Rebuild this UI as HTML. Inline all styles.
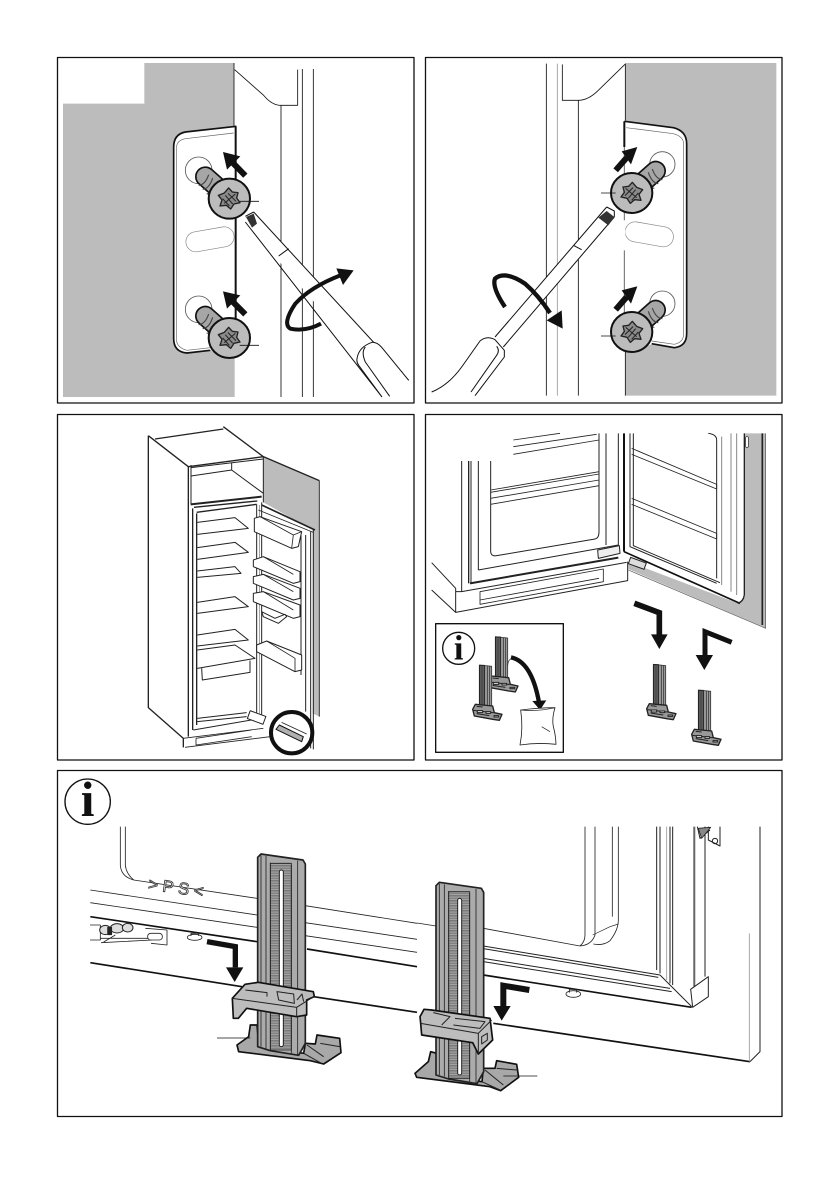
<!DOCTYPE html>
<html><head><meta charset="utf-8"><style>
html,body{margin:0;padding:0;background:#fff}
svg{display:block}
text{font-family:"Liberation Serif",serif}
</style></head><body>
<svg width="839" height="1191" viewBox="0 0 839 1191" xmlns="http://www.w3.org/2000/svg" fill="none" stroke-linejoin="round">
<defs>
<pattern id="h" width="6" height="5" patternUnits="userSpaceOnUse"><rect width="6" height="5" fill="#a6a6a6"/><rect width="6" height="1.7" fill="#5c5c5c"/></pattern>
<g id="sc">
<line x1="-20" y1="-20" x2="-72" y2="-66" stroke="#111" stroke-width="62" stroke-linecap="round"/>
<line x1="-20" y1="-20" x2="-72" y2="-66" stroke="#a6a6a6" stroke-width="52" stroke-linecap="round"/>
<g stroke="#444" stroke-width="3.5"><path d="M-92-40q20-2 30-32M-80-28q20-2 30-34M-68-14q20-2 30-34M-54 0q20-2 30-34"/></g>
<ellipse cx="0" cy="0" rx="62" ry="60" fill="#bcbcbc" stroke="#111" stroke-width="6"/>
<polygon points="-2,-32 9,-20 26,-18 22,-2 32,12 14,16 4,31 -9,20 -28,22 -22,4 -33,-10 -15,-17" fill="#8a8a8a" stroke="#222" stroke-width="4"/>
<path d="M-12-10 10 16M-4-16 20 8M-20 0 0 22M-15 14 18-14" stroke="#222" stroke-width="3"/>
</g>
<g id="mb">
<polygon points="0,0 37,4 37,125 0,125" fill="#a0a0a0" stroke="#333" stroke-width="2.5"/>
<rect x="1" y="1" width="14" height="123" fill="#666"/>
<path d="M8 3V122M16 3V122M24 4V122M31 4V122" stroke="#333" stroke-width="2.5"/>
<polygon points="-20,133 -12,118 40,123 45,143 68,148 60,166 40,163 -15,153" fill="#999" stroke="#222" stroke-width="4"/>
<path d="M-18 136 40 143 45 143M-8 124 10 126M-8 146 30 152" stroke="#222" stroke-width="3"/>
<path d="M-6 137h16v6h-16zM20 140h14v5h-14zM44 152h14v4h-14z" fill="#e2e2e2"/>
</g>
<g id="bb">
<polygon points="602,262 612,252 738,270 745,282 745,820 725,856 640,842 602,830" fill="#ababab" stroke="#222" stroke-width="5"/>
<rect x="640" y="280" width="63" height="560" fill="url(#h)"/>
<path d="M612 256V830M627 258V835M640 278V842M703 285V850M722 272V855" stroke="#222" stroke-width="2.5"/>
<rect x="667" y="300" width="12" height="530" rx="6" fill="#fff" stroke="#222" stroke-width="3"/>
</g>
</defs>

<!-- borders -->
<g stroke="#111" stroke-width="1.3">
<rect x="57.5" y="57.5" width="356.5" height="345.5"/>
<rect x="425.5" y="57.5" width="356.5" height="345.5"/>
<rect x="57.5" y="414.5" width="356.5" height="345.5"/>
<rect x="425.5" y="414.5" width="356.5" height="345.5"/>
<rect x="57.5" y="770.5" width="724.5" height="346"/>
</g>

<!-- PANEL 1 -->
<g transform="translate(57,57) scale(.33333)">
<polygon points="18,140 262,140 262,18 531,18 531,207 538,207 538,880 533,885 533,1020 18,1020" fill="#bcbcbc"/>
<path d="M672 145V1020M736 36V1020M769 36V1020M531 18V210M533 38 620 115Q645 145 672 145H722V38" stroke="#111" stroke-width="2.5"/>
<path d="M538 208 385 225Q350 232 350 270V845Q350 885 390 888L460 880 538 880V208Z" fill="#fff"/>
<path d="M538 208 385 225Q350 232 350 270V845Q350 885 390 888L460 880" stroke="#111" stroke-width="5"/>
<path d="M536 208V790" stroke="#111" stroke-width="6"/>
<path d="M530 228 385 245Q358 250 358 275V845Q358 872 390 880L460 872" stroke="#666" stroke-width="2"/>
<rect x="386" y="517" width="146" height="60" rx="30" transform="rotate(-10 459 547)" stroke="#888" stroke-width="2" fill="#fff"/>
<circle cx="425" cy="340" r="40" fill="#fff" stroke="#555" stroke-width="2.5"/>
<circle cx="425" cy="757" r="40" fill="#fff" stroke="#555" stroke-width="2.5"/>
<use href="#sc" transform="translate(517,425)"/>
<use href="#sc" transform="translate(517,843)"/>
<path d="M548 433H606M548 865H606" stroke="#111" stroke-width="2.5"/>
<polygon points="498,285 550,298 510,338" fill="#111"/><line x1="522" y1="312" x2="565" y2="356" stroke="#111" stroke-width="18"/>
<polygon points="498,703 550,715 510,755" fill="#111"/><line x1="522" y1="729" x2="565" y2="772" stroke="#111" stroke-width="18"/>
<!-- screwdriver -->
<polygon points="590,465 945,855 900,885 565,495 565,478" fill="#fff"/>
<path d="M590 465 1055 970M565 495 975 1020M565 478 590 465M665 597 695 575" stroke="#111" stroke-width="3"/>
<polygon points="567,480 590,470 600,500 585,512" fill="#333"/>
<path d="M900 905Q905 870 945 856Q960 858 975 872L1055 970V1020H975L905 925Q898 915 900 905Z" fill="#fff"/>
<path d="M1055 970 975 872Q960 855 945 856Q905 870 900 905Q898 915 905 925L975 1020M925 870Q912 885 925 915L998 1018" stroke="#111" stroke-width="3"/>
<path d="M792 800Q745 825 700 815Q675 800 715 740Q760 690 850 655" stroke="#111" stroke-width="12"/>
<polygon points="890,640 838,634 858,684" fill="#111"/>
</g>

<!-- PANEL 2 -->
<g transform="translate(425,57) scale(.33333)">
<polygon points="601,18 1054,18 1054,1016 601,1016" fill="#bcbcbc"/>
<path d="M364 20V1016M460 130V1016M601 20V190M601 880V1016M600 22 520 100Q490 130 460 130H412V22" stroke="#111" stroke-width="2.5"/>
<path d="M397 20V1016" stroke="#999" stroke-width="2.5"/>
<path d="M598 193 745 212Q785 222 785 260V830Q785 868 748 872L680 862 598 880Z" fill="#fff"/>
<path d="M598 193 745 212Q785 222 785 260V830Q785 868 748 872L680 860" stroke="#111" stroke-width="5"/>
<path d="M598 193V270" stroke="#111" stroke-width="6"/><path d="M598 270V880" stroke="#666" stroke-width="3"/>
<path d="M604 212 745 230Q776 238 776 262V830Q776 856 748 862L680 852" stroke="#666" stroke-width="2"/>
<rect x="600" y="502" width="146" height="60" rx="30" transform="rotate(10 673 532)" stroke="#888" stroke-width="2" fill="#fff"/>
<rect x="595" y="490" width="6" height="90" fill="#fff"/>
<circle cx="712" cy="322" r="38" fill="#fff" stroke="#555" stroke-width="2.5"/>
<circle cx="712" cy="740" r="38" fill="#fff" stroke="#555" stroke-width="2.5"/>
<use href="#sc" transform="translate(620,408) scale(-1,1)"/>
<use href="#sc" transform="translate(620,825) scale(-1,1)"/>
<path d="M528 408H572M528 837H572" stroke="#111" stroke-width="2.5"/>
<polygon points="637,270 590,283 618,322" fill="#111"/><line x1="605" y1="302" x2="572" y2="340" stroke="#111" stroke-width="18"/>
<polygon points="637,688 590,700 618,740" fill="#111"/><line x1="605" y1="720" x2="572" y2="758" stroke="#111" stroke-width="18"/>
<polygon points="545,450 568,480 235,870 210,840" fill="#fff"/>
<path d="M545 450 210 840M568 480 235 870M545 450 568 462 568 480M445 565 470 578" stroke="#111" stroke-width="3"/>
<polygon points="520,482 550,505 568,480 545,462" fill="#333"/>
<path d="M20 1005Q70 985 110 930L165 852Q185 835 210 848L238 880V900L150 1016H20Z" fill="#fff"/>
<path d="M20 1005Q70 985 110 930L165 852Q185 835 210 848L238 880V900L150 1016M215 868Q225 880 215 895L138 1005" stroke="#111" stroke-width="3"/>
<path d="M240 750Q200 690 210 665Q240 640 300 680Q340 715 375 768" stroke="#111" stroke-width="13"/>
<polygon points="413,815 365,790 410,760" fill="#111"/>
</g>

<!-- PANEL 3 -->
<g transform="translate(120,415) scale(.33333)" stroke="#222" stroke-width="3">
<polygon points="430,125 598,197 598,905 578,895 578,345 430,262" fill="#bcbcbc" stroke="none"/>
<path d="M598 197V905" stroke="#333"/>
<path d="M430 125 598 197M85 62V878L190 970V997M85 62 205 155V965" stroke-width="4"/>
<path d="M105 72 310 42M310 35 430 125M205 155 430 125" stroke-width="4"/>
<path d="M213 150V268M213 183 335 165 430 235M213 158 430 132M335 143V165M430 125V262"/>
<path d="M212 268 425 245" stroke-width="6"/>
<path d="M218 280V945M230 295V930M222 277 412 258M230 292 410 268" stroke-width="4"/>
<path d="M410 268V900M425 262V905" stroke-width="3"/>
<path d="M418 270V900" stroke-width="2" stroke="#777"/>
<path d="M232 322 345 308 385 340 232 358M232 398 345 382 385 412 232 433M232 468 345 455 363 475 232 487M232 562 345 545 385 575 232 595M232 660 345 643 385 675 232 693M232 705 345 690 405 730 232 760M245 760 247 795 390 772 390 737"/>
<path d="M232 910 380 893M232 920 380 905M220 945 412 912" />
<path d="M190 970 430 940M195 997 450 965M228 970 395 945M228 990 395 965M228 970V990" stroke-width="2.5"/>
<path d="M425 270 585 345" stroke-width="5"/>
<path d="M415 285 580 352" stroke-width="2.5"/>
<path d="M543 355V780M557 360V890M572 350V1000M580 345V1003" stroke-width="3"/>
<g fill="#fff">
<polygon points="403,310 420,305 545,350 535,395 515,400 403,350"/>
<polygon points="400,435 430,425 540,470 540,500 520,505 400,455"/>
<polygon points="400,485 430,478 540,520 540,550 520,555 400,505"/>
<polygon points="400,535 430,530 540,570 540,605 520,610 400,560"/>
<polygon points="425,590 430,605 475,625 500,605 495,598 465,610" />
<polygon points="410,690 440,678 545,720 545,765 525,770 410,710"/>
</g>
<path d="M420 305 520 360 545 350M515 400 520 360M430 425 520 478M430 478 520 530M430 530 520 585M440 678 525 730 525 770" stroke-width="2.5"/>
<rect x="385" y="895" width="50" height="25" fill="#fff" transform="rotate(20 410 907)"/>
<circle cx="515" cy="953" r="62" fill="#fff" stroke="#111" stroke-width="12"/>
<polygon points="468,943 478,930 550,965 545,980" fill="#b0b0b0" stroke="#111" stroke-width="3"/>
<path d="M485 922 560 957" stroke-width="2.5"/>
</g>

<!-- PANEL 4 -->
<g transform="translate(425,415) scale(.33333)" stroke="#222" stroke-width="3">
<polygon points="958,55 1022,55 1022,640 610,462 610,440 940,565 960,545" fill="#bcbcbc" stroke="none"/>
<path d="M110 138V530M138 138V505M160 138V465M197 138V408Q197 425 215 422L510 372Q522 370 522 350V55M543 55V390M580 55V400" />
<path d="M131 138V505" stroke-width="4"/>
<path d="M20 443 92 520V592L608 497V440M92 530 110 530 605 442M20 525 92 592"/>
<path d="M135 505 580 428" stroke-width="6"/>
<path d="M160 465 580 390"/>
<path d="M165 530 535 462V500L165 568ZM165 555 522 490" stroke-width="2.5"/>
<path d="M197 225 522 170M197 232 522 177M197 250 522 195M197 268 522 212M522 170V212M265 75 405 55M265 95 515 58M265 118 522 75M522 58V75" stroke-width="2.5"/>
<polygon points="518,405 583,392 585,415 520,430" fill="#eee" stroke-width="3"/>
<path d="M597 55V410" stroke="#111" stroke-width="6"/>
<path d="M597 410 945 565" stroke="#111" stroke-width="5"/>
<path d="M615 55V395L875 505M625 55V392L885 503M875 490V75Q875 58 850 55"/>
<path d="M890 65V510M918 55V530M935 55V540" stroke="#888"/>
<path d="M958 55V540Q955 560 938 565" stroke-width="4"/>
<path d="M1012 55V630" stroke-width="5"/>
<path d="M1022 55V640L610 465" stroke="#555" stroke-width="2"/>
<path d="M620 100 875 208M620 118 875 222M620 250 875 355M620 268 875 372M875 208V222M875 355V372" stroke-width="2.5"/>
<rect x="612" y="435" width="50" height="20" fill="#ddd" transform="rotate(20 637 445)"/>
<rect x="962" y="65" width="8" height="32" rx="3" stroke-width="2" fill="#fff"/>
<rect x="32" y="626" width="383" height="386" fill="#fff" stroke="#111" stroke-width="4"/>
<circle cx="101" cy="700" r="48" fill="#fff" stroke="#111" stroke-width="4"/>
<text x="101" y="734" font-size="104" font-weight="700" fill="#111" stroke="none" text-anchor="middle">i</text>
<use href="#mb" transform="translate(211,665)"/>
<use href="#mb" transform="translate(163,750)"/>
<path d="M248 752Q250 730 265 728" stroke-width="2"/>
<path d="M258 727Q320 740 342 862" stroke="#111" stroke-width="13"/>
<polygon points="345,885 322,858 364,856" fill="#111" stroke="none"/>
<path d="M287 885Q340 878 390 878Q380 910 385 935Q392 960 393 988Q340 982 285 990Q295 940 287 885Z" fill="#fff" stroke-width="2.5"/>
<path d="M287 885Q340 890 390 878M350 935 375 950" stroke-width="2"/>
<use href="#mb" transform="translate(685,748)"/>
<use href="#mb" transform="translate(820,825)"/>
<path d="M628 565 703 593V660" stroke="#111" stroke-width="17" stroke-linejoin="miter"/>
<polygon points="678,658 728,658 703,702" fill="#111" stroke="none"/>
<path d="M920 682 840 650V722" stroke="#111" stroke-width="15" stroke-linejoin="miter"/>
<polygon points="812,720 864,720 838,765" fill="#111" stroke="none"/>
</g>

<!-- PANEL 5 left -->
<g transform="translate(57,770) scale(.33333)" stroke="#222" stroke-width="2.5">
<circle cx="92" cy="95" r="68" fill="#fff" stroke="#111" stroke-width="4"/>
<text x="92" y="138" font-size="148" font-weight="700" fill="#111" stroke="none" text-anchor="middle">i</text>
<path d="M190 170V285Q192 320 230 330L600 385M205 170V285Q207 310 230 330" stroke-width="2.5"/>
<path d="M745 407 1080 460M100 360 600 435M745 458 1080 508M100 398 600 472M745 497 1080 547"/>
<path d="M100 440 600 515M750 537 1080 590M100 578 555 650M770 680 1080 727" stroke="#111" stroke-width="5"/>
<text x="272" y="358" style="font-family:'Liberation Sans',sans-serif" font-size="50" letter-spacing="14" fill="#fff" stroke="#333" stroke-width="2.5" transform="rotate(8 272 358)">&gt;PS&lt;</text>
<!-- hinge -->
<path d="M99 465H130V510H99" stroke-width="2.5"/>
<ellipse cx="145" cy="480" rx="17" ry="14" fill="#ddd" stroke-width="3"/>
<ellipse cx="180" cy="475" rx="20" ry="14" fill="#ddd" stroke-width="3"/>
<ellipse cx="212" cy="473" rx="16" ry="13" fill="#ddd" stroke-width="3"/>
<rect x="152" y="472" width="12" height="22" fill="#222"/>
<path d="M130 505 280 505M132 518 285 510M175 495 140 516M265 475 330 480V525L282 520"/>
<rect x="272" y="490" width="44" height="20" rx="9" fill="#fff"/>
<ellipse cx="413" cy="502" rx="22" ry="9"/><path d="M402 498V490H425V498"/>
<polygon points="540,825 575,800 580,765 600,765 606,830 740,850 745,820 775,822 780,795 848,805 852,848 800,882 760,872 545,845" fill="#a8a8a8" stroke="#111" stroke-width="5"/>
<path d="M740 850 790 878M750 825 800 860M790 820 848 830" stroke-width="3"/>
<use href="#bb"/>
<path d="M450 515 535 530V592" stroke="#111" stroke-width="16" stroke-linejoin="miter"/>
<polygon points="507,592 559,592 533,636" fill="#111" stroke="none"/>
<polygon points="526,685 564,643 604,637 769,665 772,680 749,690 749,735 719,740 569,715 544,745 529,745" fill="#bdbdbd" stroke="#111" stroke-width="5"/>
<path d="M526 685 719 712 770 680M719 712V740M565 660 630 668 630 680M660 665 710 672 712 700 665 690ZM720 690 735 672 740 695" stroke="#222" stroke-width="3"/>
<path d="M480 804H580" stroke="#111"/>
</g>

<!-- PANEL 5 right -->
<g transform="translate(400,820) scale(.33333)" stroke="#222" stroke-width="2.5">
<path d="M51 309 108 318M250 325 540 378Q575 375 585 345V20M555 20V345Q555 365 540 378M637 20V290M655 20V300Q655 330 630 362Q610 378 580 372"/>
<path d="M578 345 630 320 655 312" stroke-width="2"/>
<path d="M250 378 780 465M250 386 775 472M250 415 810 505M250 425 815 515" stroke-width="3"/>
<path d="M250 465 875 562M280 610 1050 725" stroke="#111" stroke-width="5"/>
<path d="M770 20V450M780 20V460M810 20V490M818 20V495M882 20V505M915 20V470M1080 20V695L1050 725" stroke-width="3"/>
<path d="M800 20V480M885 20V505M1048 340V725" stroke="#999"/>
<path d="M780 465 875 560" stroke-width="3"/>
<polygon points="872,508 925,470 925,530 878,562" fill="#fff" stroke-width="3"/>
<path d="M892 20 900 55 930 30M925 20V60L960 78V20M945 55a8 8 0 1 0 .1 0" stroke-width="3"/>
<polygon points="895,25 932,22 905,55" fill="#888"/>
<ellipse cx="520" cy="522" rx="22" ry="10"/><path d="M508 518V508H530V518"/>
<polygon points="45,760 85,725 92,695 110,700 118,768 246,785 250,745 285,745 290,722 350,733 356,772 302,812 270,800 50,772" fill="#a8a8a8" stroke="#111" stroke-width="5"/>
<path d="M246 785 300 810M255 750 310 795M290 745 350 750" stroke-width="3"/>
<use href="#bb" transform="translate(-494,-65)"/>
<path d="M388 510 310 497V562" stroke="#111" stroke-width="18" stroke-linejoin="miter"/>
<polygon points="280,558 332,558 305,602" fill="#111" stroke="none"/>
<polygon points="62,610 60,590 72,568 95,570 270,595 278,660 235,702 218,668 65,645" fill="#bdbdbd" stroke="#111" stroke-width="5"/>
<path d="M62 610 235 640 275 600M235 640V700M100 578 150 590 125 615M165 595 255 605 240 625 160 615M245 650 262 640V660L245 672Z" stroke-width="3"/>
<path d="M310 768H412" stroke="#111"/>
</g>
</svg>
</body></html>
